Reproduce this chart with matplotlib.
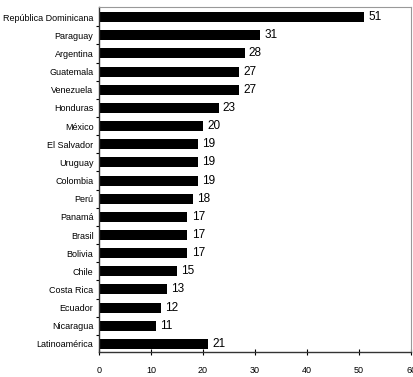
import matplotlib
matplotlib.use("Agg")
import matplotlib.pyplot as plt
from matplotlib import font_manager

countries = ["República Dominicana", "Paraguay", "Argentina", "Guatemala", "Venezuela",
             "Honduras", "México", "El Salvador", "Uruguay", "Colombia", "Perú", "Panamá",
             "Brasil", "Bolivia", "Chile", "Costa Rica", "Ecuador", "Nicaragua", "Latinoamérica"]
values = [51, 31, 28, 27, 27, 23, 20, 19, 19, 19, 18, 17, 17, 17, 15, 13, 12, 11, 21]
xticks = [0, 10, 20, 30, 40, 50, 60]

names = {f.name for f in font_manager.fontManager.ttflist}
fam = "Liberation Sans Narrow" if "Liberation Sans Narrow" in names else "Liberation Sans"
plt.rcParams["font.family"] = [fam, "DejaVu Sans"]

fig = plt.figure(figsize=(4.14, 3.77), dpi=100)
ax = fig.add_axes([0.239, 0.066, 0.754, 0.915])

pos = list(range(len(countries)))
ax.barh(pos, values, height=0.55, color="black")
for p, v in zip(pos, values):
    ax.text(v + 0.8, p, str(v), va="center", ha="left", fontsize=8.5, color="black")

ax.set_ylim(len(countries) - 0.55, -0.55)
ax.set_xlim(0, 60)
ax.set_yticks(pos)
ax.set_yticklabels(countries, fontsize=6.5)
ax.set_yticks([p + 0.5 for p in pos[:-1]], minor=True)
ax.set_xticks(xticks)
ax.set_xticklabels([str(t) for t in xticks], fontsize=6.5)
ax.tick_params(axis="y", which="major", length=0, pad=4)
ax.tick_params(axis="y", which="minor", length=2, width=0.8, direction="out")
ax.tick_params(axis="x", direction="inout", length=4, width=0.8, pad=8)
for s in ["top", "right"]:
    ax.spines[s].set_color("#999999")
    ax.spines[s].set_linewidth(0.8)
for s in ["left", "bottom"]:
    ax.spines[s].set_color("#333333")
    ax.spines[s].set_linewidth(1.0)

fig.savefig("out.png", dpi=100)
